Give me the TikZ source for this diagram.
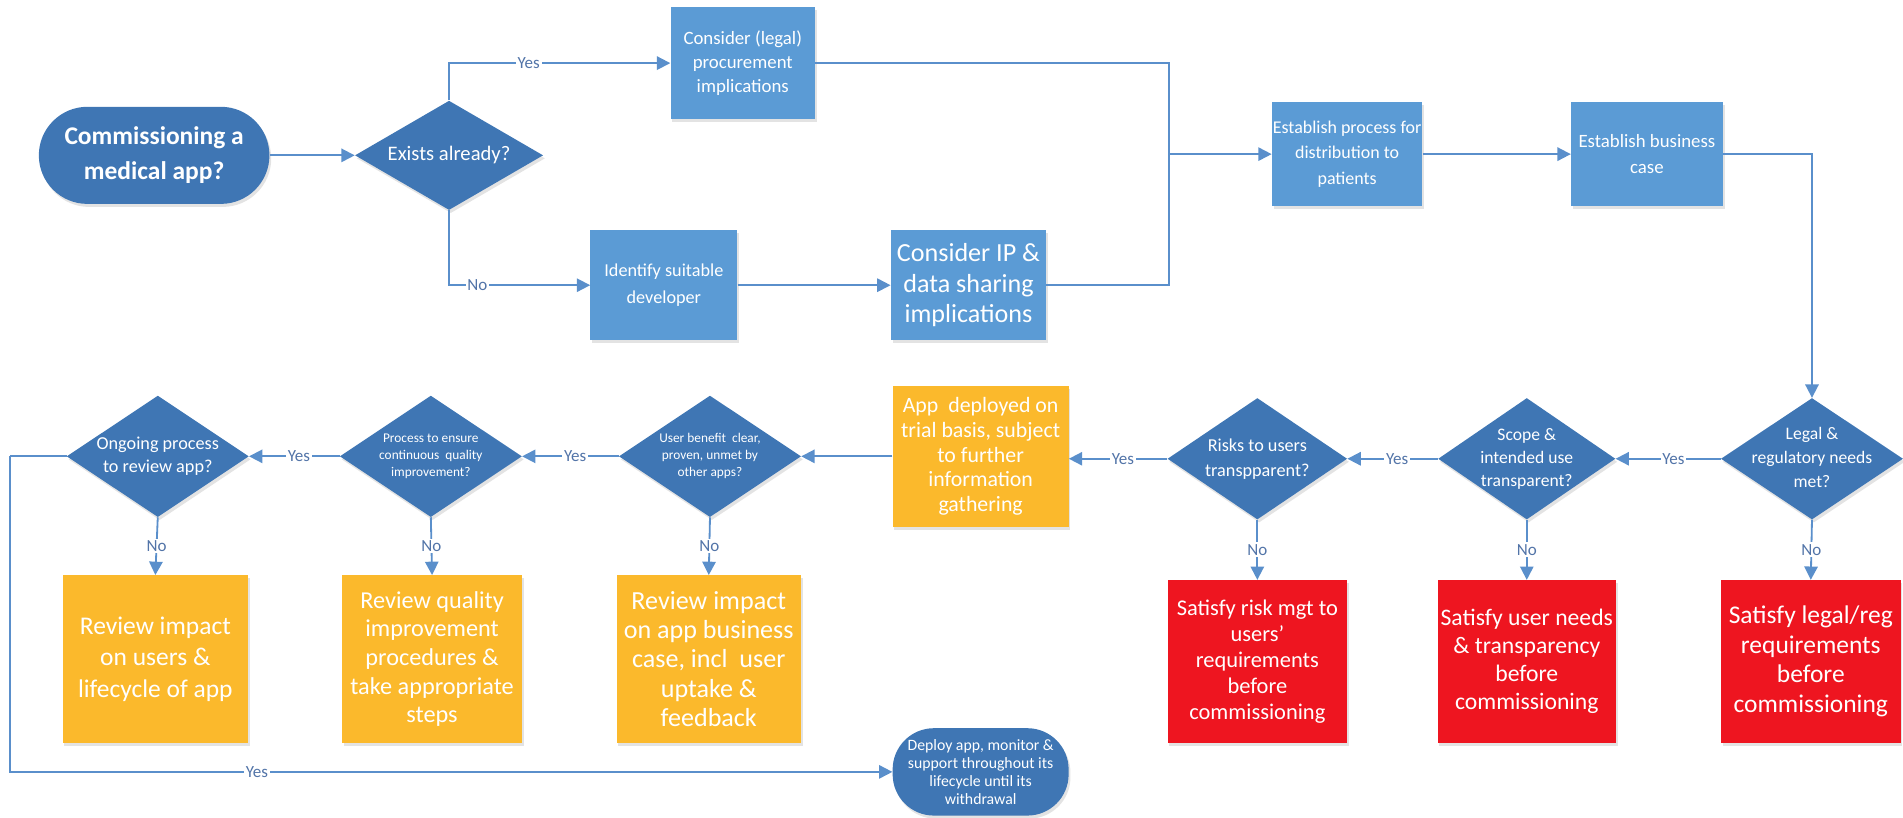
\documentclass[tikz,border=0pt]{standalone}
\usepackage{fontspec}
\setmainfont{Carlito}
\usetikzlibrary{shapes.geometric,arrows.meta,shadows}

\definecolor{boxblue}{HTML}{5B9BD5}
\definecolor{darkblue}{HTML}{3F76B4}
\definecolor{lineblue}{HTML}{5A8FCB}
\definecolor{amber}{HTML}{FBB92C}
\definecolor{alarm}{HTML}{EE1520}
\definecolor{labelblue}{HTML}{5274A8}

% font size with leading
\newcommand\fsz[2]{\fontsize{#1}{#2}\selectfont}
% zero-size centred text block, so a diamond keeps its set size
\newcommand\dtx[1]{\raisebox{-.25em}[0pt][0pt]{\makebox[0pt]{\begin{tabular}{@{}c@{}}#1\end{tabular}}}}

\begin{document}
\begin{tikzpicture}[x=1pt,y=-1pt,
  every node/.style={text=white, inner sep=0pt},
  shade/.style={drop shadow={opacity=0.22, shadow xshift=1.5pt, shadow yshift=-2.5pt}},
  box/.style={rectangle, fill=boxblue, align=center, shade},
  obox/.style={rectangle, fill=amber, align=center, shade},
  rbox/.style={rectangle, fill=alarm, align=center, shade},
  dia/.style={diamond, fill=darkblue, minimum width=150pt, minimum height=100pt, shade},
  term/.style={rectangle, fill=darkblue, align=center, shade},
  arr/.style={draw=lineblue, line width=1.5pt, -{Triangle[length=11pt,width=11pt]}},
  con/.style={draw=lineblue, line width=1.5pt},
  lab/.style={fill=white, text=labelblue, font=\fsz{14}{16}, inner sep=1.5pt}
]
\useasboundingbox (0,0) rectangle (1568,674);

% ---- upper flow ----
\node[term, minimum width=190pt, minimum height=80pt, rounded corners=40pt,
      font=\bfseries\fsz{21}{29}] (start) at (127,128) {Commissioning a\\medical app?};
\node[dia, minimum width=155pt, minimum height=90pt, font=\fsz{17}{20}] (exists) at (370,128) {\dtx{Exists already?}};
\node[box, minimum width=119pt, minimum height=92pt, font=\fsz{15.5}{19.5}] (legalproc) at (612,52) {Consider (legal)\\procurement\\implications};
\node[box, minimum width=121pt, minimum height=91pt, font=\fsz{15}{22}] (ident) at (547,235) {Identify suitable\\developer};
\node[box, minimum width=128pt, minimum height=91pt, font=\fsz{21.5}{25}] (ipdata) at (798,235) {Consider IP \&\\data sharing\\implications};
\node[box, minimum width=124pt, minimum height=86pt, font=\fsz{14.8}{21}] (distrib) at (1110,127) {Establish process for\\distribution to\\patients};
\node[box, minimum width=125pt, minimum height=86pt, font=\fsz{15.5}{21}] (bcase) at (1357,127) {Establish business\\case};

\coordinate (merge) at (963,127);

\draw[arr] (start) -- (exists);
\draw[arr] (exists.north) |- (legalproc.west) node[lab, pos=0.68] {Yes};
\draw[arr] (exists.south) |- (ident.west) node[lab, pos=0.6] {No};
\draw[arr] (ident) -- (ipdata);
\draw[con] (legalproc.east) -| (merge);
\draw[con] (ipdata.east) -| (merge);
\draw[arr] (merge) -- (distrib.west);
\draw[arr] (distrib) -- (bcase);

% ---- lower flow, right to left ----
\node[dia, font=\fsz{14.5}{19.5}] (legal) at (1493,378) {\dtx{Legal \&\\regulatory needs\\met?}};
\node[dia, minimum width=146pt, font=\fsz{14.5}{19}] (scope) at (1258,378) {\dtx{Scope \&\\intended use\\transparent?}};
\node[dia, minimum width=148pt, font=\fsz{15}{21}] (risks) at (1036,378) {\dtx{Risks to users\\transpparent?}};
\node[obox, minimum width=145pt, minimum height=116pt, font=\fsz{18}{20.5}] (trial) at (808,376) {App\ \ deployed on\\trial basis, subject\\to further\\information\\gathering};
\node[dia, font=\fsz{11}{14}] (benefit) at (585,376) {\dtx{User benefit\ \ clear,\\proven, unmet by\\other apps?}};
\node[dia, font=\fsz{11}{14}] (quality) at (355,376) {\dtx{Process to ensure\\continuous\ \ quality\\improvement?}};
\node[dia, font=\fsz{15}{19}] (ongoing) at (130,376) {\dtx{Ongoing process\\to review app?}};

\node[obox, minimum width=153pt, minimum height=138pt, font=\fsz{21}{26}] (revusers) at (128,543) {Review impact\\on users \&\\lifecycle of app};
\node[obox, minimum width=148pt, minimum height=138pt, font=\fsz{20}{23.5}] (revqual) at (356,543) {Review quality\\improvement\\procedures \&\\take appropriate\\steps};
\node[obox, minimum width=152pt, minimum height=138pt, font=\fsz{21.5}{24}] (revcase) at (584,543) {Review impact\\on app business\\case, incl\ \ user\\uptake \&\\feedback};

\node[rbox, minimum width=148pt, minimum height=134pt, font=\fsz{18.5}{21.5}] (sriskmgt) at (1036,545) {Satisfy risk mgt to\\users'\\requirements\\before\\commissioning};
\node[rbox, minimum width=147pt, minimum height=134pt, font=\fsz{19.5}{23}] (suser) at (1258,545) {Satisfy user needs\\\& transparency\\before\\commissioning};
\node[rbox, minimum width=148pt, minimum height=134pt, font=\fsz{21}{24.5}] (slegal) at (1492,545) {Satisfy legal/reg\\requirements\\before\\commissioning};

\node[term, minimum width=145pt, minimum height=72pt, rounded corners=34pt,
      font=\fsz{13}{15}] (deploy) at (808,636) {Deploy app, monitor \&\\support throughout its\\lifecycle until its\\withdrawal};

\coordinate (loop) at (8,376);

\draw[arr] (bcase.east) -| (legal.north);
\draw[arr] (legal) -- (scope) node[lab, pos=0.45] {Yes};
\draw[arr] (scope) -- (risks) node[lab, pos=0.45] {Yes};
\draw[arr] (risks.west) -- (trial.east |- risks.west) node[lab, pos=0.45] {Yes};
\draw[arr] (trial) -- (benefit);
\draw[arr] (benefit) -- (quality) node[lab, pos=0.45] {Yes};
\draw[arr] (quality) -- (ongoing) node[lab, pos=0.45] {Yes};
\draw[con] (ongoing.west) -- (loop);
\draw[arr] (loop) |- (deploy.west) node[lab, pos=0.64] {Yes};

\draw[arr] (ongoing.south) -- (revusers.north) node[lab, midway] {No};
\draw[arr] (quality.south) -- (revqual.north) node[lab, midway] {No};
\draw[arr] (benefit.south) -- (revcase.north) node[lab, midway] {No};
\draw[arr] (risks.south) -- (sriskmgt.north) node[lab, midway] {No};
\draw[arr] (scope.south) -- (suser.north) node[lab, midway] {No};
\draw[arr] (legal.south) -- (slegal.north) node[lab, midway] {No};
\end{tikzpicture}
\end{document}
